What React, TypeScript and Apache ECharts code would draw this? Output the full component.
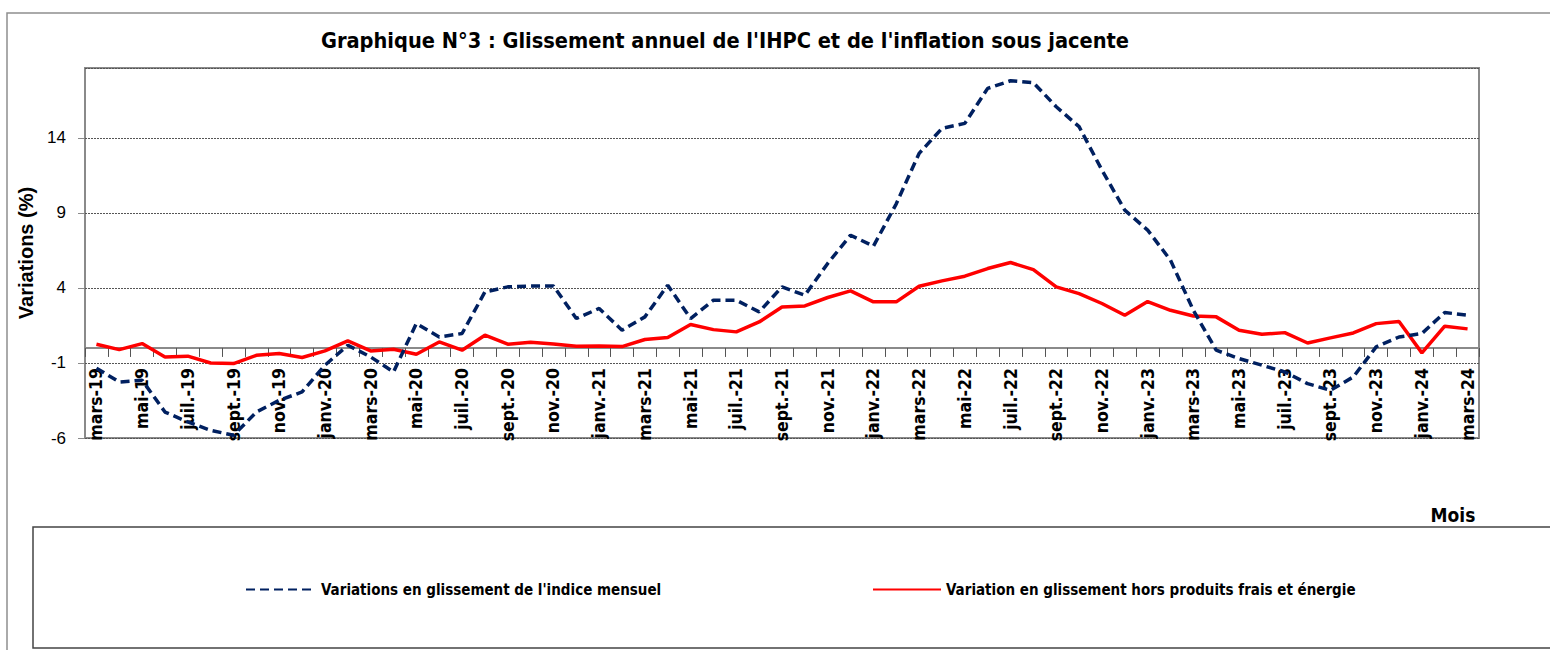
import React, { useEffect, useRef } from "react";
import * as echarts from "echarts";

const months: string[] = [
  "mars-19", "avr.-19", "mai-19", "juin-19", "juil.-19", "août-19", "sept.-19", "oct.-19", "nov.-19", "déc.-19",
  "janv.-20", "févr.-20", "mars-20", "avr.-20", "mai-20", "juin-20", "juil.-20", "août-20", "sept.-20", "oct.-20",
  "nov.-20", "déc.-20", "janv.-21", "févr.-21", "mars-21", "avr.-21", "mai-21", "juin-21", "juil.-21", "août-21",
  "sept.-21", "oct.-21", "nov.-21", "déc.-21", "janv.-22", "févr.-22", "mars-22", "avr.-22", "mai-22", "juin-22",
  "juil.-22", "août-22", "sept.-22", "oct.-22", "nov.-22", "déc.-22", "janv.-23", "févr.-23", "mars-23", "avr.-23",
  "mai-23", "juin-23", "juil.-23", "août-23", "sept.-23", "oct.-23", "nov.-23", "déc.-23", "janv.-24", "févr.-24",
  "mars-24",
];

const ihpc: number[] = [
  -1.35, -2.27, -2.15, -4.27, -4.93, -5.49, -5.82, -4.27, -3.49, -2.93,
  -1.15, 0.18, -0.6, -1.6, 1.63, 0.73, 0.96, 3.73, 4.07, 4.13,
  4.13, 1.96, 2.63, 1.18, 2.07, 4.18, 1.96, 3.18, 3.18, 2.4,
  4.07, 3.51, 5.63, 7.51, 6.78, 9.6, 12.96, 14.63, 14.96, 17.29,
  17.8, 17.67, 16.07, 14.74, 11.85, 9.18, 7.85, 5.85, 2.51, -0.15,
  -0.71, -1.15, -1.6, -2.38, -2.82, -1.93, 0.07, 0.73, 0.96, 2.36,
  2.18,
];

const sousJacente: number[] = [
  0.25, -0.11, 0.29, -0.6, -0.55, -1.0, -1.04, -0.49, -0.37, -0.64,
  -0.2, 0.47, -0.2, -0.09, -0.42, 0.4, -0.15, 0.85, 0.25, 0.38,
  0.27, 0.11, 0.13, 0.09, 0.56, 0.69, 1.56, 1.22, 1.07, 1.73,
  2.73, 2.8, 3.36, 3.8, 3.07, 3.07, 4.11, 4.47, 4.78, 5.29,
  5.69, 5.22, 4.07, 3.62, 2.96, 2.18, 3.09, 2.51, 2.13, 2.07,
  1.18, 0.91, 1.02, 0.33, 0.67, 1.0, 1.62, 1.76, -0.33, 1.45,
  1.27,
];

const seriesNames: string[] = [
  "Variations en glissement de l'indice mensuel",
  "Variation en glissement hors produits frais et énergie",
];

const titleText = "Graphique N°3 : Glissement annuel de l'IHPC et de l'inflation sous jacente";
const yName = "Variations (%)";
const xName = "Mois";

const NARROW = "'Liberation Sans Narrow', 'DejaVu Sans Condensed', sans-serif";
const ARIAL = "'Liberation Sans', Arial, sans-serif";

export default function App() {
  const ref = useRef<HTMLDivElement>(null);
  useEffect(() => {
    if (!ref.current) return;
    const chart = echarts.init(ref.current, null, { renderer: "svg" });
    const legendText = { fontFamily: NARROW, fontWeight: "bold", fontSize: 15, color: "#000" };
    chart.setOption({
      animation: false,
      backgroundColor: "#ffffff",
      grid: {
        left: 85,
        top: 68,
        width: 1394,
        height: 370,
        show: true,
        borderColor: "#8a8a8a",
        borderWidth: 2,
        containLabel: false,
      },
      xAxis: {
        type: "category",
        data: months,
        boundaryGap: true,
        offset: -85,
        axisLine: { show: true, lineStyle: { color: "#8a8a8a", width: 2 } },
        axisTick: { show: true, interval: 0, length: 9, lineStyle: { color: "#555", width: 1 } },
        axisLabel: {
          interval: 1,
          rotate: 90,
          margin: 15,
          fontFamily: NARROW,
          fontWeight: "bold",
          fontSize: 17.5,
          color: "#000",
        },
        splitLine: { show: false },
      },
      yAxis: {
        type: "value",
        min: -6,
        max: 18.65,
        interval: 5,
        name: yName,
        nameLocation: "middle",
        nameGap: 43,
        nameRotate: 90,
        nameTextStyle: { fontFamily: ARIAL, fontWeight: "bold", fontSize: 20, color: "#000" },
        axisLine: { show: false },
        axisTick: { show: true, length: 7, lineStyle: { color: "#8a8a8a" } },
        axisLabel: {
          showMaxLabel: false,
          fontFamily: ARIAL,
          fontSize: 17,
          color: "#000",
          margin: 19,
        },
        splitLine: { show: true, lineStyle: { color: "#555", type: [2, 1], width: 1 } },
      },
      legend: [
        {
          data: [seriesNames[0]],
          left: 240,
          top: 577,
          itemWidth: 70,
          itemHeight: 14,
          itemGap: 6,
          itemStyle: { opacity: 0 },
          textStyle: legendText,
        },
        {
          data: [seriesNames[1]],
          left: 867,
          top: 577,
          itemWidth: 68,
          itemHeight: 14,
          itemGap: 6,
          itemStyle: { opacity: 0 },
          textStyle: legendText,
        },
      ],
      graphic: [
        {
          type: "rect",
          shape: { x: 7, y: 13, width: 1600, height: 700 },
          style: { fill: "none", stroke: "#8f8f8f", lineWidth: 1.5 },
          silent: true,
          z: -10,
        },
        {
          type: "rect",
          shape: { x: 33, y: 527, width: 1600, height: 121 },
          style: { fill: "none", stroke: "#444", lineWidth: 1.5 },
          silent: true,
          z: -10,
        },
        {
          type: "text",
          x: 725,
          y: 40,
          style: {
            text: titleText,
            fontFamily: NARROW,
            fontWeight: "bold",
            fontSize: 21.6,
            fill: "#000",
            textAlign: "center",
            textVerticalAlign: "middle",
          },
        },
        {
          type: "text",
          x: 1453,
          y: 515,
          style: {
            text: xName,
            fontFamily: NARROW,
            fontWeight: "bold",
            fontSize: 19,
            fill: "#000",
            textAlign: "center",
            textVerticalAlign: "middle",
          },
        },
      ],
      series: [
        {
          name: seriesNames[0],
          type: "line",
          data: ihpc,
          symbol: "none",
          showSymbol: false,
          lineStyle: { color: "#002060", width: 3.5, type: [9, 5] },
          itemStyle: { color: "#002060" },
          z: 3,
        },
        {
          name: seriesNames[1],
          type: "line",
          data: sousJacente,
          symbol: "none",
          showSymbol: false,
          lineStyle: { color: "#ff0000", width: 3.5, type: "solid" },
          itemStyle: { color: "#ff0000" },
          z: 2,
        },
      ],
    });
    return () => chart.dispose();
  }, []);
  return (
    <div
      ref={ref}
      style={{ position: "fixed", left: 0, top: 0, width: 1550, height: 650, background: "#fff" }}
    />
  );
}
